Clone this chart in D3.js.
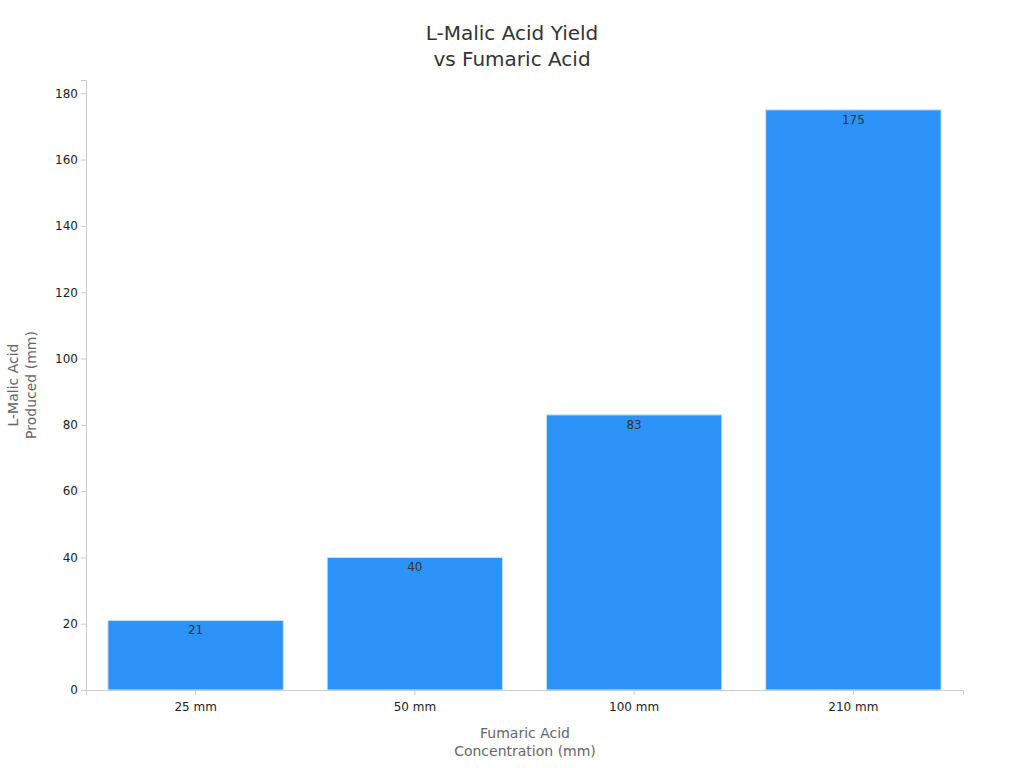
<!DOCTYPE html><html><head><meta charset="utf-8"><script src="https://cdn.jsdelivr.net/npm/d3@7"></script>
<style>body{margin:0;background:#fff;font-family:"DejaVu Sans",sans-serif}</style></head><body><svg id="c" width="1024" height="768"></svg>
<script>
const categories=["25 mm","50 mm","100 mm","210 mm"];
const values=[21,40,83,175];
const yTicks=[0,20,40,60,80,100,120,140,160,180];
const svg=d3.select("#c");
const L=86,R=963,T=80,B=690;
const x=d3.scaleBand().domain(categories).range([L,R]).paddingInner(0.2).paddingOuter(0.1);
const y=d3.scaleLinear().domain([0,184]).range([B,T]);
svg.append("g").selectAll("rect").data(values).join("rect")
 .attr("x",(d,i)=>x(categories[i])).attr("width",x.bandwidth())
 .attr("y",d=>y(d)).attr("height",d=>B-y(d)).attr("fill","#2e93f9").attr("stroke","#cfe6fd").attr("stroke-width",1);
svg.append("g").selectAll("text").data(values).join("text")
 .attr("x",(d,i)=>x(categories[i])+x.bandwidth()/2).attr("y",d=>y(d)+14)
 .attr("text-anchor","middle").attr("font-size",12).attr("fill","#333").text(d=>d);
const ya=svg.append("g").attr("transform",`translate(${L},0)`).call(d3.axisLeft(y).tickValues(yTicks).tickSize(5));
const xa=svg.append("g").attr("transform",`translate(0,${B})`).call(d3.axisBottom(x).tickSize(5));
[ya,xa].forEach(a=>{a.selectAll("path,line").attr("stroke","#ccc");a.selectAll("text").attr("font-size",12).attr("fill","#222").attr("font-family","DejaVu Sans");});
xa.selectAll("text").attr("dy","1.1em");
svg.append("text").attr("x",512).attr("y",40).attr("text-anchor","middle").attr("font-size",20).attr("fill","#333").text("L-Malic Acid Yield");
svg.append("text").attr("x",512).attr("y",66).attr("text-anchor","middle").attr("font-size",20).attr("fill","#333").text("vs Fumaric Acid");
svg.append("text").attr("x",525).attr("y",738).attr("text-anchor","middle").attr("font-size",14).attr("fill","#666").text("Fumaric Acid");
svg.append("text").attr("x",525).attr("y",756).attr("text-anchor","middle").attr("font-size",14).attr("fill","#666").text("Concentration (mm)");
const g=svg.append("g").attr("transform","translate(18,385) rotate(-90)");
g.append("text").attr("text-anchor","middle").attr("font-size",14).attr("fill","#666").text("L-Malic Acid");
g.append("text").attr("y",18).attr("text-anchor","middle").attr("font-size",14).attr("fill","#666").text("Produced (mm)");
</script></body></html>
